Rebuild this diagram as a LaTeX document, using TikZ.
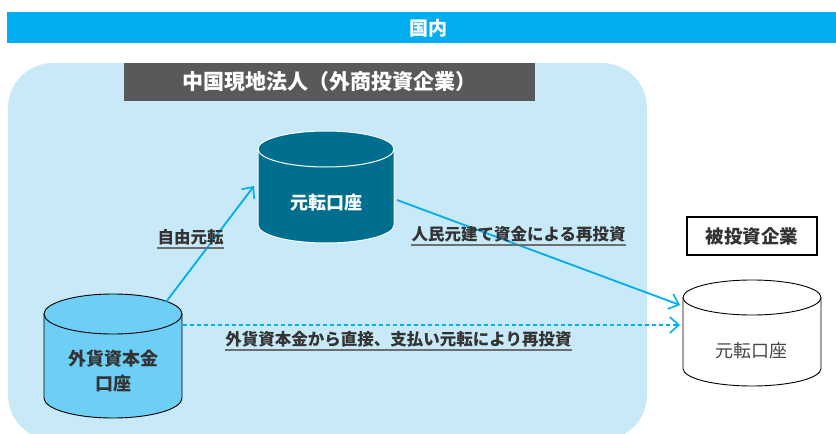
\documentclass[tikz,border=0pt]{standalone}
\usepackage{fontspec}
\setmainfont{Noto Sans CJK JP}
\usetikzlibrary{arrows.meta}
\definecolor{barblue}{HTML}{00AEEF}
\definecolor{regionblue}{HTML}{C8E9F8}
\definecolor{titlegray}{HTML}{58595B}
\definecolor{darkcyl}{HTML}{006F8F}
\definecolor{lightcyl}{HTML}{6DCFF6}
\definecolor{txtdark}{HTML}{333333}
\definecolor{ulgray}{HTML}{6D6E71}
\tikzset{
  flow/.style={draw=barblue, line width=1.8pt, -{Straight Barb[length=9pt,width=16pt,line width=1.6pt]}},
  dflow/.style={flow, dash pattern=on 4pt off 3pt},
  lbl/.style={text=txtdark, font=\fontsize{16.5}{18}\selectfont\bfseries, inner sep=0pt},
  uline/.style={draw=ulgray, line width=1.8pt},
  cyltext/.style={font=\fontsize{18}{26}\selectfont, align=center, inner sep=0pt},
  hook/.style={inner sep=0pt, minimum width=#1}
}
\begin{document}
\begin{tikzpicture}[x=1pt,y=1pt]
\useasboundingbox (0,0) rectangle (836,-434);
% top bar
\fill[barblue] (7,-12) rectangle (836,-43);
\node[text=white, font=\fontsize{19}{20}\selectfont\bfseries] (kokunai) at (428,-28) {国内};
% region
\begin{scope}
\clip (0,0) rectangle (836,-434);
\fill[regionblue, rounded corners=45pt] (8,-63) rectangle (647,-440);
\end{scope}
% title
\node[fill=titlegray, text=white, minimum width=411, minimum height=38, inner sep=0pt, font=\fontsize{21}{22}\selectfont\bfseries] (title) at (329.5,-82) {中国現地法人（外商投資企業）};
% dark cylinder
\path[fill=darkcyl, draw=white, line width=1pt] (258,-149) -- (258,-225) arc[start angle=180,end angle=360,x radius=68,y radius=18] -- (394,-149) arc[start angle=0,end angle=180,x radius=68,y radius=18] -- cycle;
\draw[white, line width=1pt] (258,-149) arc[start angle=180,end angle=360,x radius=68,y radius=18];
\node[hook=136, minimum height=112] (dc) at (326,-187) {};
\node[cyltext, text=white, font=\fontsize{18}{26}\selectfont\bfseries] (dct) at (326,-203) {元転口座};
% light cylinder
\path[fill=lightcyl, draw=black, line width=0.9pt] (44,-314) -- (44,-398) arc[start angle=180,end angle=360,x radius=69,y radius=20] -- (182,-314) arc[start angle=0,end angle=180,x radius=69,y radius=20] -- cycle;
\draw[black, line width=0.9pt] (44,-314) arc[start angle=180,end angle=360,x radius=69,y radius=20];
\node[hook=138, minimum height=124] (lc) at (113,-356) {};
\node[cyltext, text=txtdark, font=\fontsize{18}{25}\selectfont\bfseries] (lct) at (113,-371) {外貨資本金\\口座};
% white cylinder
\path[fill=white, draw=black, line width=0.9pt] (683,-297.5) -- (683,-368.5) arc[start angle=180,end angle=360,x radius=69,y radius=17.5] -- (821,-297.5) arc[start angle=0,end angle=180,x radius=69,y radius=17.5] -- cycle;
\draw[black, line width=0.9pt] (683,-297.5) arc[start angle=180,end angle=360,x radius=69,y radius=17.5];
\node[hook=138, minimum height=106] (wc) at (752,-333) {};
\node[cyltext, text=txtdark!90] (wct) at (751,-351) {元転口座};
% target box
\node[draw=black, line width=1.2pt, minimum width=130, minimum height=38, inner sep=0pt, text=txtdark, font=\fontsize{18.5}{20}\selectfont\bfseries] (tgt) at (752,-236) {被投資企業};
% connectors
\coordinate (s1) at (166,-302);
\coordinate (e1) at (254,-186);
\coordinate (s2) at (397,-200);
\coordinate (e2) at (680,-305);
\coordinate (s3) at (183,-325);
\coordinate (e3) at (680,-325);
\draw[flow] (s1) -- (e1);
\draw[flow] (s2) -- (e2);
\draw[dflow] (s3) -- (e3);
% labels
\node[lbl] (l1) at (190.5,-237) {自由元転};
\draw[uline] ([yshift=-3pt]l1.south west) -- ([yshift=-3pt]l1.south east);
\node[lbl] (l2) at (518.5,-234) {人民元建て資金による再投資};
\draw[uline] ([yshift=-3pt]l2.south west) -- ([yshift=-3pt]l2.south east);
\node[lbl] (l3) at (398.5,-339) {外貨資本金から直接、支払い元転により再投資};
\draw[uline] ([yshift=-3pt]l3.south west) -- ([yshift=-3pt]l3.south east);
\end{tikzpicture}
\end{document}
